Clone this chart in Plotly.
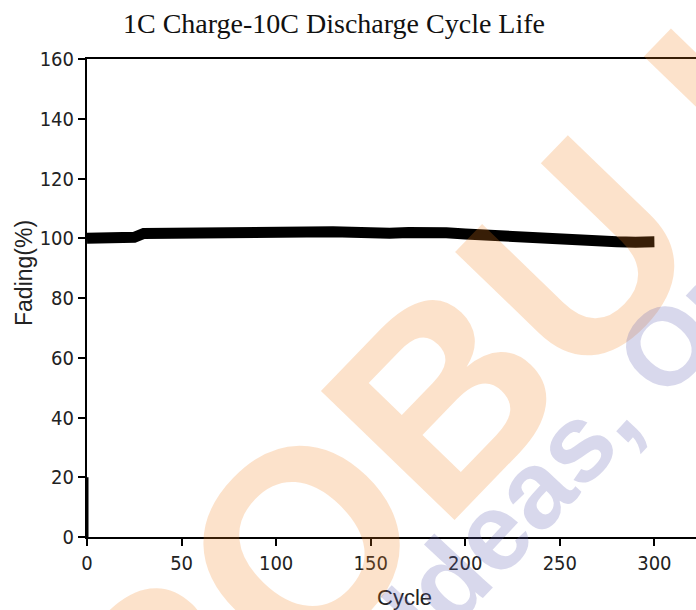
import plotly.graph_objects as go

# Data
cycles = [0, 10, 20, 25, 30, 40, 50, 60, 70, 80, 90, 100, 110, 120, 130, 140, 150,
          160, 170, 180, 190, 200, 210, 220, 230, 240, 250, 260, 270, 280, 290, 300]
fading = [100.0, 100.2, 100.6, 100.3, 101.6, 101.7, 101.8, 102.0, 102.3, 102.5, 102.6,
          102.6, 102.5, 102.4, 102.2, 102.0, 101.6, 101.7, 101.9, 102.3, 101.8, 101.4,
          101.0, 100.5, 100.2, 100.0, 99.6, 99.3, 99.1, 98.8, 98.7, 98.8]
start_x = [0, 0]
start_y = [0, 20]

x_ticks = [0, 50, 100, 150, 200, 250, 300]
y_ticks = [0, 20, 40, 60, 80, 100, 120, 140, 160]

W, H = 696, 610
L, R, T, B = 87, 0, 59, 73

fig = go.Figure()
fig.add_trace(go.Scatter(x=start_x, y=start_y, mode="lines",
                         line=dict(color="black", width=3), showlegend=False))
fig.add_trace(go.Scatter(x=cycles, y=fading, mode="lines",
                         line=dict(color="black", width=11), showlegend=False))

tick_font = dict(family="DejaVu Sans Condensed, Liberation Sans Narrow, Liberation Sans, sans-serif",
                 size=20, color="#222")
label_font = dict(family="Liberation Sans, Arial, sans-serif", size=22, color="#222")

fig.update_layout(
    width=W, height=H,
    margin=dict(l=L, r=R, t=T, b=B, autoexpand=False),
    paper_bgcolor="white", plot_bgcolor="white",
    showlegend=False,
    title=dict(text="1C Charge-10C Discharge Cycle Life",
               font=dict(family="Liberation Serif, Times New Roman, serif", size=28, color="#111"),
               x=334 / W, xref="container", xanchor="center",
               y=1 - 23 / H, yref="container", yanchor="middle"),
    xaxis=dict(range=[0, 322], tickvals=x_ticks, ticktext=[str(v) for v in x_ticks],
               showgrid=False, zeroline=False, showline=True, linecolor="black",
               linewidth=2, mirror=True, ticks="outside", ticklen=7, tickwidth=1.5,
               tickcolor="black", tickfont=tick_font, automargin=False),
    yaxis=dict(range=[0, 160], tickvals=y_ticks, ticktext=[str(v) for v in y_ticks],
               showgrid=False, zeroline=False, showline=True, linecolor="black",
               linewidth=2, mirror=False, ticks="outside", ticklen=7, tickwidth=1.5,
               tickcolor="black", tickfont=tick_font, automargin=False),
)

def px(x):
    return (x - L) / (W - L - R)

def py(y):
    return (H - B - y) / (H - T - B)

annotations = [
    dict(text="Fading(%)", x=px(24), y=py(273), xref="paper", yref="paper",
         showarrow=False, textangle=-90, xanchor="center", yanchor="middle",
         font=dict(family="Liberation Sans, Arial, sans-serif", size=23, color="#222")),
    dict(text="Cycle", x=px(404), y=py(597), xref="paper", yref="paper",
         showarrow=False, xanchor="center", yanchor="middle", font=label_font),
    # watermarks
    dict(text="<b>ROBU.IN</b>", x=px(489), y=py(349), xref="paper", yref="paper",
         showarrow=False, textangle=-46, xanchor="center", yanchor="middle",
         font=dict(family="Liberation Sans, Arial, sans-serif", size=270,
                   color="rgba(240,130,30,0.23)")),
    dict(text="<b>Ideas, Online</b>", x=px(636), y=py(377), xref="paper", yref="paper",
         showarrow=False, textangle=-47, xanchor="center", yanchor="middle",
         font=dict(family="Liberation Sans, Arial, sans-serif", size=110,
                   color="rgba(100,100,180,0.25)")),
]
fig.update_layout(annotations=annotations)

fig.write_html("out.html", config={"displayModeBar": False},
               post_script="document.body.style.margin='0';")
